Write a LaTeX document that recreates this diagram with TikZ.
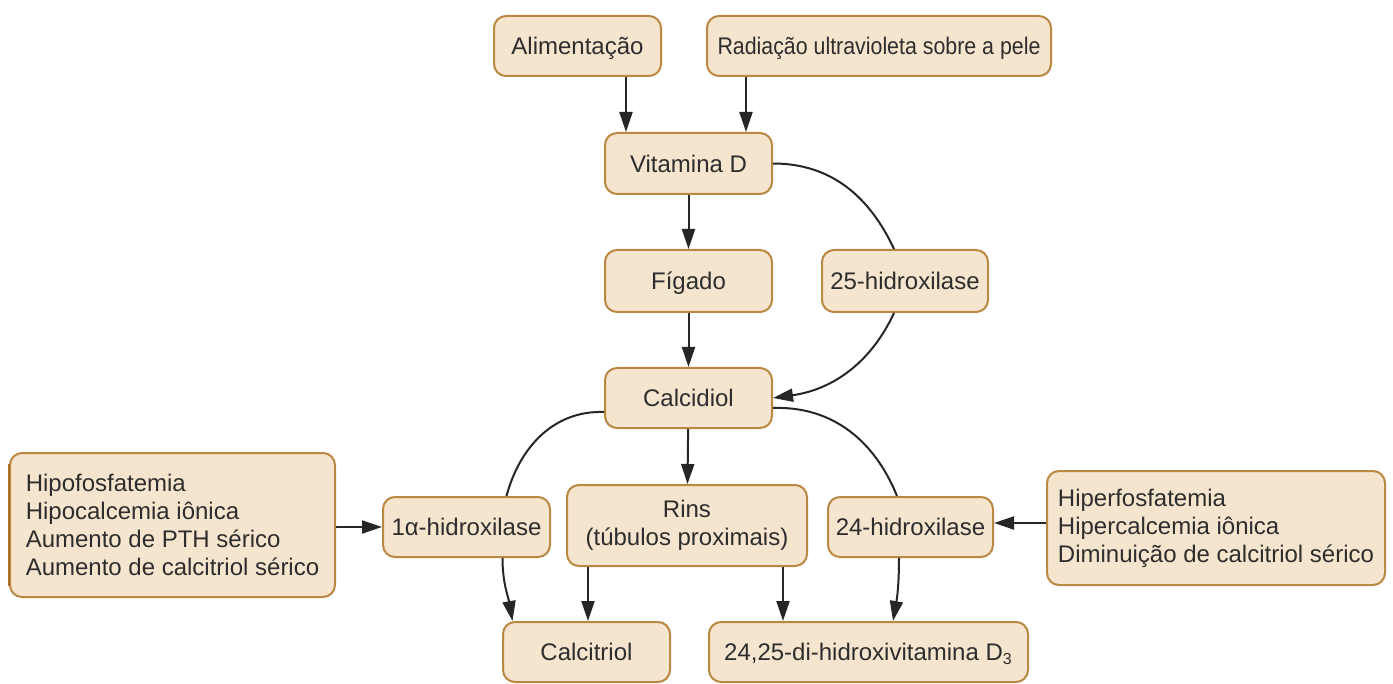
\documentclass[tikz,border=0pt]{standalone}
\usepackage{fontspec}
\setmainfont{Liberation Sans}
\usetikzlibrary{arrows.meta}
\definecolor{boxfill}{RGB}{245,229,206}
\definecolor{boxline}{RGB}{186,136,66}
\definecolor{boxedge}{RGB}{170,112,40}
\definecolor{inkgray}{RGB}{38,38,38}
\definecolor{textgray}{RGB}{45,45,45}
\begin{document}
\begin{tikzpicture}[x=0.5pt,y=-0.5pt,
  box/.style={draw=boxline, fill=boxfill, line width=1pt, rounded corners=6pt,
    inner sep=0pt, text=textgray, font=\fontsize{12}{14}\selectfont},
  single/.style={box, text height=8.6pt, text depth=0pt},
  multi/.style={box, align=left},
  link/.style={draw=inkgray, line width=1pt},
  arrow/.style={link, -{Triangle[length=10pt,width=6.5pt]}},
]
\useasboundingbox (0,0) rectangle (1393,684);

% sources
\node[single, minimum width=83.5pt, minimum height=30pt] (alim) at (577.5,46) {Alimentação};
\node[single, minimum width=172pt, minimum height=30pt] (rad) at (879,46) {\scalebox{0.89}[1]{Radiação ultravioleta sobre a pele}};

% hepatic step
\node[single, minimum width=83.5pt, minimum height=30.5pt] (vitd) at (688.5,163.5) {Vitamina D};
\node[single, minimum width=83.5pt, minimum height=31pt] (fig) at (688.5,281) {Fígado};
\node[single, minimum width=83pt, minimum height=31pt] (h25) at (905,281) {25-hidroxilase};
\node[single, minimum width=83.5pt, minimum height=30pt] (calcid) at (688.5,398) {Calcidiol};

% renal step
\node[box, align=center, minimum width=120pt, minimum height=40.5pt] (rins) at (687,525.5) {Rins\\(túbulos proximais)};
\node[single, minimum width=83.5pt, minimum height=30pt] (h1a) at (466.5,527) {1α-hidroxilase};
\node[single, minimum width=82.5pt, minimum height=30pt] (h24) at (910.5,527) {24-hidroxilase};

% regulating conditions
\node[multi, minimum width=162.5pt, minimum height=72pt] (left) at (172.5,525) {Hipofosfatemia\\Hipocalcemia iônica\\Aumento de PTH sérico\\Aumento de calcitriol sérico};
\draw[boxedge, line width=1.4pt] ([yshift=-6pt]left.north west) -- ([yshift=6pt]left.south west);
\node[multi, minimum width=169pt, minimum height=57pt] (right) at (1216,528) {Hiperfosfatemia\\Hipercalcemia iônica\\Diminuição de calcitriol sérico};

% products
\node[single, minimum width=83.5pt, minimum height=30pt] (calcitriol) at (586.5,652) {Calcitriol};
\node[single, minimum width=159.5pt, minimum height=30pt] (d3) at (868.5,652) {24,25-di-hidroxivitamina D\textsubscript{3}};

% vitamin D sources
\draw[arrow] ([xshift=24.25pt]alim.south) -- ([xshift=24.25pt]alim.south |- vitd.north);
\draw[arrow] ([xshift=-66.5pt]rad.south) -- ([xshift=-66.5pt]rad.south |- vitd.north);

% liver pathway
\draw[arrow] (vitd) -- (fig);
\draw[arrow] (fig) -- (calcid);
\draw[link] (vitd.east) to[out=0,in=115] ([xshift=-5.5pt]h25.north);
\draw[arrow] ([xshift=-5.5pt]h25.south) to[out=-115,in=8] (calcid.east);

% kidney pathway
\draw[arrow] (calcid) -- (rins);
\draw[link] ([yshift=-7pt]calcid.west) to[out=178,in=75] ([xshift=20pt]h1a.north);
\draw[link] ([yshift=-5pt]calcid.east) to[out=2,in=112] ([xshift=-6.75pt]h24.north);

% regulation
\draw[arrow] (left.east |- h1a.west) -- (h1a.west);
\draw[arrow] ([yshift=2pt]right.west |- h24.west) -- ([yshift=2pt]h24.east);

% products
\draw[arrow] ([xshift=18pt]h1a.south) to[out=-90,in=100] ([xshift=-37pt]calcitriol.north);
\draw[arrow] ([xshift=-49.5pt]rins.south) -- ([xshift=-49.5pt]rins.south |- calcitriol.north);
\draw[arrow] ([xshift=48pt]rins.south) -- ([xshift=48pt]rins.south |- d3.north);
\draw[arrow] ([xshift=-5.75pt]h24.south) to[out=-90,in=80] ([xshift=12.25pt]d3.north);
\end{tikzpicture}
\end{document}
